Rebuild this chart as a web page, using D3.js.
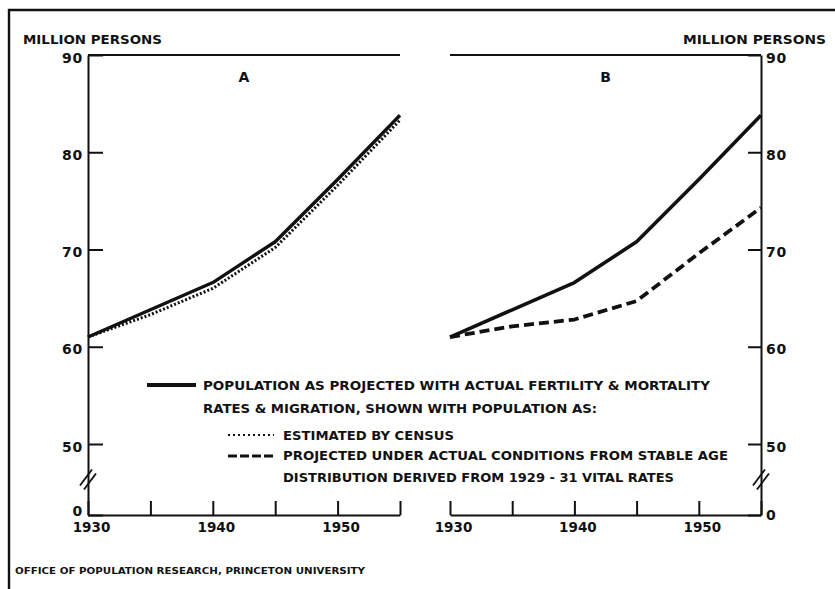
<!DOCTYPE html>
<html>
<head>
<meta charset="utf-8">
<script src="https://cdn.jsdelivr.net/npm/d3@7"></script>
<style>
  html, body { margin: 0; padding: 0; background: #fff; }
  svg { display: block; }
  text { font-family: "DejaVu Sans", sans-serif; font-weight: bold; fill: #111; }
</style>
</head>
<body>
<svg id="chart" width="835" height="589"></svg>
<script>
// ---- data ----
const years = [1930, 1935, 1940, 1945, 1950, 1955];
const projectedActual = [61.0, 63.8, 66.6, 70.8, 77.2, 83.8];   // solid, both panels
const censusEstimate = [61.0, 63.3, 66.0, 70.2, 76.6, 83.3];    // dotted, panel A
const stableProjection = [61.0, 62.1, 62.8, 64.7, 69.6, 74.3];  // dashed, panel B
const yTickValues = [0, 50, 60, 70, 80, 90];
const xTickValues = [1930, 1935, 1940, 1945, 1950, 1955];
const xLabelValues = [1930, 1940, 1950];
const panelLabels = ["A", "B"];
const yTitle = "MILLION PERSONS";
const legendLines = [
  "POPULATION AS PROJECTED WITH ACTUAL FERTILITY & MORTALITY",
  "RATES & MIGRATION, SHOWN WITH POPULATION AS:",
  "ESTIMATED BY CENSUS",
  "PROJECTED UNDER ACTUAL CONDITIONS FROM STABLE AGE",
  "DISTRIBUTION DERIVED FROM 1929 - 31 VITAL RATES"
];
const sourceNote = "OFFICE OF POPULATION RESEARCH, PRINCETON UNIVERSITY";

// ---- layout ----
const svg = d3.select("#chart");
const ink = "#111";

const y = d3.scaleLinear().domain([0, 50, 90]).range([515, 444, 55]);
const xA = d3.scaleLinear().domain([1930, 1955]).range([88, 400]);
const xB = d3.scaleLinear().domain([1930, 1955]).range([450, 761]);

// frame
svg.append("path").attr("d", "M9,589V10H835")
  .attr("fill", "none").attr("stroke", ink).attr("stroke-width", 2.4);

function styleAxis(g) {
  g.selectAll("path.domain").attr("stroke", ink).attr("stroke-width", 2);
  g.selectAll(".tick line").attr("stroke", ink).attr("stroke-width", 2);
  g.selectAll(".tick text").attr("fill", ink)
    .style("font-family", "'DejaVu Sans', sans-serif")
    .style("font-weight", "bold").style("font-size", "13.5px");
}

function drawPanel(x, side, label, series) {
  const g = svg.append("g");
  // x axis
  const xg = g.append("g").attr("transform", `translate(0,${y(0)})`)
    .call(d3.axisBottom(x).tickValues(xTickValues)
      .tickSizeInner(-14).tickSizeOuter(0).tickPadding(8)
      .tickFormat(d => xLabelValues.includes(d) ? d3.format("d")(d) : ""));
  styleAxis(xg);
  xg.selectAll(".tick text").attr("dx", 3).attr("dy", "0.68em");

  // y axis
  const yAxis = side === "left" ? d3.axisLeft(y) : d3.axisRight(y);
  const ax = side === "left" ? x(1930) : x(1955);
  const yg = g.append("g").attr("transform", `translate(${ax},0)`)
    .call(yAxis.tickValues(yTickValues).tickSizeInner(side === "left" ? -15 : -13)
      .tickSizeOuter(0).tickPadding(side === "left" ? 5 : 5).tickFormat(d3.format("d")));
  styleAxis(yg);
  yg.selectAll(".tick text").style("font-size", "14px").style("letter-spacing", "0.8px")
    .attr("dy", d => d === 0 ? (side === "left" ? "0.05em" : "0.35em") : "0.5em");

  // top frame line
  g.append("line").attr("x1", x(1930)).attr("x2", x(1955))
    .attr("y1", y(90)).attr("y2", y(90))
    .attr("stroke", ink).attr("stroke-width", 2);

  // axis break marks
  const by = (y(0) + y(50)) / 2;
  [-2, 2].forEach(off => {
    g.append("line")
      .attr("x1", ax - 6 + off).attr("y1", by + 8 + off)
      .attr("x2", ax + 6 + off).attr("y2", by - 8 + off)
      .attr("stroke", ink).attr("stroke-width", 1.8);
  });

  // panel letter
  g.append("text").attr("x", (x(1930) + x(1955)) / 2).attr("y", 82)
    .attr("text-anchor", "middle").style("font-size", "14px").text(label);

  // series
  series.forEach(s => {
    const line = d3.line().x((d, i) => x(years[i])).y(d => y(d));
    g.append("path").datum(s.values).attr("d", line)
      .attr("fill", "none").attr("stroke", ink)
      .attr("stroke-width", s.width)
      .attr("stroke-dasharray", s.dash || null)
      .attr("stroke-linejoin", "round");
  });
}

drawPanel(xA, "left", panelLabels[0], [
  { values: censusEstimate, width: 3, dash: "2,2" },
  { values: projectedActual, width: 3.4 }
]);
drawPanel(xB, "right", panelLabels[1], [
  { values: projectedActual, width: 3.6 },
  { values: stableProjection, width: 3.8, dash: "10,5" }
]);

// axis titles
svg.append("text").attr("x", 23).attr("y", 44).attr("textLength", 139)
  .attr("lengthAdjust", "spacingAndGlyphs").style("font-size", "12.5px").text(yTitle);
svg.append("text").attr("x", 683).attr("y", 44).attr("textLength", 143)
  .attr("lengthAdjust", "spacingAndGlyphs").style("font-size", "12.5px").text(yTitle);

// legend
const lg = svg.append("g");
lg.append("line").attr("x1", 147).attr("x2", 196).attr("y1", 385).attr("y2", 385)
  .attr("stroke", ink).attr("stroke-width", 4);
lg.append("line").attr("x1", 228).attr("x2", 274).attr("y1", 435).attr("y2", 435)
  .attr("stroke", ink).attr("stroke-width", 2.2).attr("stroke-dasharray", "2,3");
lg.append("line").attr("x1", 228).attr("x2", 275).attr("y1", 456).attr("y2", 456)
  .attr("stroke", ink).attr("stroke-width", 3).attr("stroke-dasharray", "9,3");
const legendPos = [
  { x: 203, y: 390, w: 507 },
  { x: 203, y: 413, w: 394 },
  { x: 283, y: 440, w: 171 },
  { x: 283, y: 460, w: 445 },
  { x: 283, y: 481.5, w: 391 }
];
legendLines.forEach((t, i) => {
  lg.append("text").attr("x", legendPos[i].x).attr("y", legendPos[i].y)
    .attr("textLength", legendPos[i].w).attr("lengthAdjust", "spacingAndGlyphs")
    .style("font-size", "12.5px").text(t);
});

// source note
svg.append("text").attr("x", 15).attr("y", 574).attr("textLength", 350)
  .attr("lengthAdjust", "spacingAndGlyphs").style("font-size", "9.5px").text(sourceNote);
</script>
</body>
</html>
